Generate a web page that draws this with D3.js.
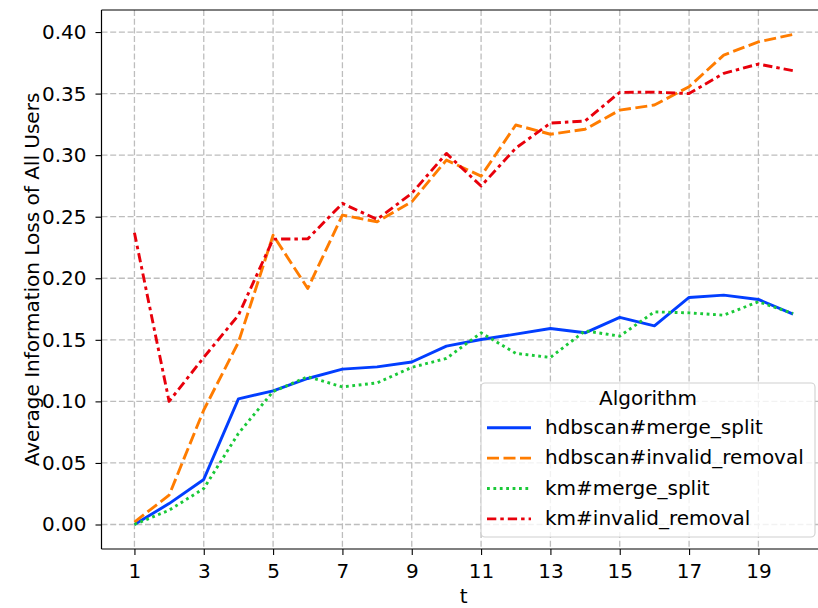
<!DOCTYPE html>
<html>
<head>
<meta charset="utf-8">
<script src="https://cdn.jsdelivr.net/npm/d3@7"></script>
<style>
  html, body { margin: 0; padding: 0; background: #fff; }
  svg { display: block; font-family: "DejaVu Sans", sans-serif; }
</style>
</head>
<body>
<svg id="chart" width="818" height="608"></svg>
<script>
// ---- data ----
const tValues = [1,2,3,4,5,6,7,8,9,10,11,12,13,14,15,16,17,18,19,20];
const seriesNames = ["hdbscan#merge_split", "hdbscan#invalid_removal", "km#merge_split", "km#invalid_removal"];
const hdbscanMergeSplit = [0.000, 0.017, 0.0366, 0.102, 0.1086, 0.1186, 0.1262, 0.128, 0.132, 0.1449, 0.1503, 0.1546, 0.1592, 0.1557, 0.1682, 0.1614, 0.1844, 0.1863, 0.1828, 0.1709];
const hdbscanInvalidRemoval = [0.002, 0.0238, 0.093, 0.148, 0.235, 0.1917, 0.2513, 0.2459, 0.2621, 0.296, 0.283, 0.3245, 0.317, 0.321, 0.3366, 0.3407, 0.3556, 0.3813, 0.392, 0.398];
const kmMergeSplit = [0.000, 0.0116, 0.0292, 0.074, 0.108, 0.120, 0.1118, 0.115, 0.1276, 0.1349, 0.1557, 0.139, 0.1357, 0.1573, 0.153, 0.1727, 0.1719, 0.170, 0.1809, 0.1714];
const kmInvalidRemoval = [0.237, 0.100, 0.1357, 0.170, 0.2318, 0.232, 0.2608, 0.2478, 0.269, 0.3014, 0.2749, 0.3057, 0.326, 0.3277, 0.351, 0.3512, 0.350, 0.3664, 0.374, 0.3686];
const xTicks = [1,3,5,7,9,11,13,15,17,19];
const yTicks = [0.00,0.05,0.10,0.15,0.20,0.25,0.30,0.35,0.40];
const legendTitle = "Algorithm";
const xLabel = "t";
const yLabel = "Average Information Loss of All Users";

// ---- styles ----
const colors = ["#023eff", "#ff7c00", "#1ac938", "#e8000b"];
const dashes = [null, "12,4.5", "2.8,3.6", "9.3,4,3.5,4"];
const lineW = 2.9;
const FS = 20;

const svg = d3.select("#chart");
const L = 101.5, R = 826, T = 10, B = 549;

const x = d3.scaleLinear().domain([0.05, 20.95]).range([L, R]);
const y = d3.scaleLinear().domain([-0.0199, 0.4179]).range([B, T]);

const series = [hdbscanMergeSplit, hdbscanInvalidRemoval, kmMergeSplit, kmInvalidRemoval];

// grid
const grid = svg.append("g");
grid.selectAll("line.gx").data(xTicks).join("line")
  .attr("x1", d => x(d)).attr("x2", d => x(d)).attr("y1", T).attr("y2", B)
  .attr("stroke", "#bdbdbd").attr("stroke-width", 1.3).attr("stroke-dasharray", "6,2.7");
grid.selectAll("line.gy").data(yTicks).join("line")
  .attr("x1", L).attr("x2", R).attr("y1", d => y(d)).attr("y2", d => y(d))
  .attr("stroke", "#bdbdbd").attr("stroke-width", 1.3).attr("stroke-dasharray", "6,2.7");

// lines
const line = d3.line().x((d, i) => x(tValues[i])).y(d => y(d));
series.forEach((s, k) => {
  svg.append("path").datum(s)
    .attr("d", line)
    .attr("fill", "none")
    .attr("stroke", colors[k])
    .attr("stroke-width", lineW)
    .attr("stroke-linejoin", "round")
    .attr("stroke-dasharray", dashes[k]);
});

// axes
const xAxis = d3.axisBottom(x).tickValues(xTicks).tickSize(6).tickPadding(9).tickFormat(d3.format("d"));
const yAxis = d3.axisLeft(y).tickValues(yTicks).tickSize(6).tickPadding(9).tickFormat(d3.format(".2f"));
const gx = svg.append("g").attr("transform", `translate(0,${B})`).call(xAxis);
const gy = svg.append("g").attr("transform", `translate(${L},0)`).call(yAxis);
[gx, gy].forEach(g => {
  g.select(".domain").remove();
  g.selectAll(".tick line").attr("stroke", "#000").attr("stroke-width", 1.1);
  g.selectAll(".tick text").attr("fill", "#000").attr("font-size", FS).attr("font-family", "DejaVu Sans");
});
gx.selectAll(".tick text").attr("dy", "0.71em");

// spines
svg.append("line").attr("x1", L).attr("x2", L).attr("y1", T).attr("y2", B).attr("stroke", "#000").attr("stroke-width", 1.2);
svg.append("line").attr("x1", L).attr("x2", R).attr("y1", B).attr("y2", B).attr("stroke", "#000").attr("stroke-width", 1.2);
svg.append("line").attr("x1", L).attr("x2", R).attr("y1", T).attr("y2", T).attr("stroke", "#000").attr("stroke-width", 1.2);

// axis labels
svg.append("text").attr("x", (L + R) / 2).attr("y", 603).attr("text-anchor", "middle")
  .attr("font-size", FS).text(xLabel);
svg.append("text").attr("transform", `translate(39,${(T + B) / 2}) rotate(-90)`)
  .attr("text-anchor", "middle").attr("font-size", FS).text(yLabel);

// legend
const lg = svg.append("g");
lg.append("rect").attr("x", 481).attr("y", 383).attr("width", 334).attr("height", 154)
  .attr("rx", 4).attr("fill", "#fff").attr("fill-opacity", 0.8)
  .attr("stroke", "#d0d0d0").attr("stroke-width", 1.1);
lg.append("text").attr("x", 648).attr("y", 405).attr("text-anchor", "middle")
  .attr("font-size", FS).text(legendTitle);
seriesNames.forEach((name, k) => {
  const by = 434 + k * 30.4;
  lg.append("line").attr("x1", 487).attr("x2", 531).attr("y1", by - 6.3).attr("y2", by - 6.3)
    .attr("stroke", colors[k]).attr("stroke-width", lineW).attr("stroke-dasharray", dashes[k]);
  lg.append("text").attr("x", 545).attr("y", by).attr("font-size", FS).text(name);
});
</script>
</body>
</html>
